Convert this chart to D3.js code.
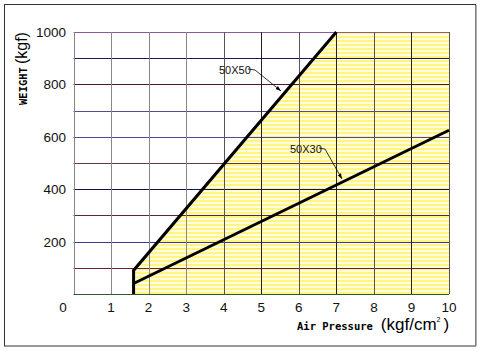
<!DOCTYPE html>
<html>
<head>
<meta charset="utf-8">
<script src="https://cdn.jsdelivr.net/npm/d3@7"></script>
<style>
  body { margin: 0; background: #fff; }
  svg { display: block; }
</style>
</head>
<body>
<svg id="chart" width="485" height="353"></svg>
<script>
// data
const xTicks = [1, 2, 3, 4, 5, 6, 7, 8, 9, 10];
const yTicks = [200, 400, 600, 800, 1000];
const yGrid = [0, 100, 200, 300, 400, 500, 600, 700, 800, 900, 1000];
const series50x50 = [[1.6, 0], [1.6, 90], [7, 1000]];
const series50x30 = [[1.6, 40], [10, 625]];
const seriesNames = ["50X50", "50X30"];

const svg = d3.select("#chart");
const m = {left: 73.5, right: 449, top: 32, bottom: 294};
const font = "Liberation Sans, Arial, sans-serif";

const x = d3.scaleLinear().domain([0, 10]).range([m.left, m.right]);
const y = d3.scaleLinear().domain([0, 1000]).range([m.bottom, m.top]);

// outer frame
svg.append("rect")
    .attr("x", 4.5).attr("y", 4.5)
    .attr("width", 471).attr("height", 341.5)
    .attr("fill", "none")
    .attr("stroke", "#333")
    .attr("stroke-width", 1);
svg.append("line")
    .attr("x1", 476).attr("x2", 476).attr("y1", 5).attr("y2", 346)
    .attr("stroke", "#999").attr("stroke-width", 1.5);

// striped yellow fill pattern
const defs = svg.append("defs");
const pat = defs.append("pattern")
    .attr("id", "stripes")
    .attr("patternUnits", "userSpaceOnUse")
    .attr("width", 4).attr("height", 4);
pat.append("rect").attr("width", 4).attr("height", 4).attr("fill", "#fffbe0");
pat.append("rect").attr("width", 4).attr("height", 2).attr("fill", "#fff680");

// region right of the 50X50 line
const area = series50x50.concat([[10, 1000], [10, 0]]);
svg.append("path")
    .attr("d", d3.line().x(d => x(d[0])).y(d => y(d[1]))(area) + "Z")
    .attr("fill", "url(#stripes)");

// grid (scan left the horizontals in mixed dark tints)
const hColors = ["#2f5a2f", "#6a2030", "#3a3a8a", "#5a2a2a", "#151545", "#6a3050",
                 "#4a4a98", "#5a4a8a", "#4a1a1a", "#1a1a5a", "#8a5a9a"];
svg.append("g").selectAll("line")
    .data(yGrid)
    .join("line")
    .attr("x1", m.left).attr("x2", m.right)
    .attr("y1", d => Math.round(y(d)) + 0.5).attr("y2", d => Math.round(y(d)) + 0.5)
    .attr("stroke", (d, i) => hColors[i])
    .attr("stroke-width", 1);

svg.append("g").selectAll("line")
    .data([0].concat(xTicks))
    .join("line")
    .attr("x1", d => Math.round(x(d)) + 0.5).attr("x2", d => Math.round(x(d)) + 0.5)
    .attr("y1", m.top).attr("y2", m.bottom)
    .attr("stroke", d => d < 4 ? "#888" : (d % 2 ? "#222" : "#555"))
    .attr("stroke-width", 1);

// series lines
const line = d3.line().x(d => x(d[0])).y(d => y(d[1]));
[series50x50, series50x30].forEach(s => {
    svg.append("path")
        .attr("d", line(s))
        .attr("fill", "none")
        .attr("stroke", "#000")
        .attr("stroke-width", 3)
        .attr("stroke-linejoin", "miter");
});

// arrow marker for leaders
defs.append("marker")
    .attr("id", "arrow")
    .attr("viewBox", "0 0 10 10")
    .attr("refX", 10).attr("refY", 5)
    .attr("markerWidth", 7).attr("markerHeight", 7)
    .attr("orient", "auto")
    .append("path")
    .attr("d", "M0,1.5L10,5L0,8.5Z")
    .attr("fill", "#000");

// labels with leader lines
const leaders = [
    {tx: 219, ty: 74, path: [[248, 69], [255, 70], [281, 91]]},
    {tx: 290, ty: 153, path: [[319, 148], [325, 149], [342, 179]]}
];
leaders.forEach((l, i) => {
    svg.append("text")
        .attr("x", l.tx).attr("y", l.ty)
        .attr("font-family", font)
        .attr("font-size", 11)
        .attr("fill", "#111")
        .text(seriesNames[i]);
    svg.append("path")
        .attr("d", d3.line()(l.path))
        .attr("fill", "none")
        .attr("stroke", "#000")
        .attr("stroke-width", 0.8)
        .attr("marker-end", "url(#arrow)");
});

// tick labels
svg.append("g").selectAll("text")
    .data(yTicks)
    .join("text")
    .attr("x", 66).attr("y", d => y(d) + 5)
    .attr("text-anchor", "end")
    .attr("font-family", font).attr("font-size", 13.5)
    .attr("fill", "#111")
    .text(d => d);

svg.append("g").selectAll("text")
    .data(xTicks)
    .join("text")
    .attr("x", d => x(d)).attr("y", 312)
    .attr("text-anchor", "middle")
    .attr("font-family", font).attr("font-size", 13.5)
    .attr("fill", "#111")
    .text(d => d);

svg.append("text")
    .attr("x", 63).attr("y", 312)
    .attr("text-anchor", "middle")
    .attr("font-family", font).attr("font-size", 13.5)
    .attr("fill", "#111")
    .text("0");

// axis titles
const yt = svg.append("text")
    .attr("transform", "translate(27,105) rotate(-90)")
    .attr("fill", "#000");
yt.append("tspan")
    .attr("font-family", "DejaVu Sans Mono, monospace")
    .attr("font-weight", "bold").attr("font-size", 10.5)
    .text("WEIGHT");
yt.append("tspan")
    .attr("dx", 3)
    .attr("font-family", font).attr("font-size", 16)
    .text("(kgf)");

const xt = svg.append("text")
    .attr("x", 297).attr("y", 330)
    .attr("fill", "#000");
xt.append("tspan")
    .attr("font-family", "DejaVu Sans Mono, monospace")
    .attr("font-weight", "bold").attr("font-size", 10.5)
    .text("Air Pressure");
xt.append("tspan")
    .attr("dx", 8)
    .attr("font-family", font).attr("font-size", 17)
    .text("(kgf/cm");
xt.append("tspan")
    .attr("dy", -8)
    .attr("font-family", font).attr("font-size", 7)
    .text("2");
xt.append("tspan")
    .attr("dy", 8).attr("dx", 3)
    .attr("font-family", font).attr("font-size", 17)
    .text(")");
</script>
</body>
</html>
